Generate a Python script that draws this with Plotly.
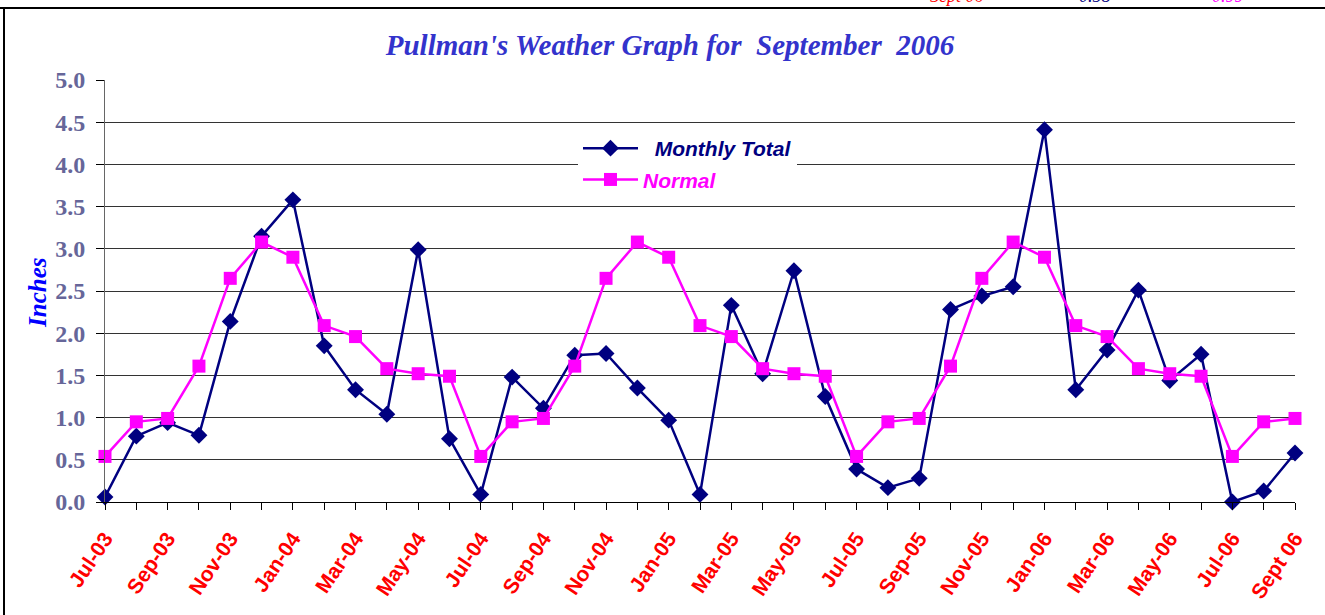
import plotly.graph_objects as go

months = ["Jul-03","Aug-03","Sep-03","Oct-03","Nov-03","Dec-03","Jan-04","Feb-04","Mar-04","Apr-04","May-04","Jun-04",
          "Jul-04","Aug-04","Sep-04","Oct-04","Nov-04","Dec-04","Jan-05","Feb-05","Mar-05","Apr-05","May-05","Jun-05",
          "Jul-05","Aug-05","Sep-05","Oct-05","Nov-05","Dec-05","Jan-06","Feb-06","Mar-06","Apr-06","May-06","Jun-06",
          "Jul-06","Aug-06","Sept 06"]
monthly_total = [0.06,0.78,0.94,0.79,2.14,3.15,3.58,1.85,1.33,1.04,2.99,0.75,
                 0.09,1.48,1.11,1.74,1.76,1.35,0.97,0.09,2.33,1.52,2.74,1.25,
                 0.39,0.17,0.28,2.28,2.44,2.55,4.41,1.33,1.80,2.51,1.44,1.75,
                 0.00,0.13,0.58]
normal = [0.54,0.95,0.99,1.61,2.65,3.08,2.90,2.09,1.96,1.58,1.52,1.49,
          0.54,0.95,0.99,1.61,2.65,3.08,2.90,2.09,1.96,1.58,1.52,1.49,
          0.54,0.95,0.99,1.61,2.65,3.08,2.90,2.09,1.96,1.58,1.52,1.49,
          0.54,0.95,0.99]
tick_labels = months[::2]
y_ticks = [0.0,0.5,1.0,1.5,2.0,2.5,3.0,3.5,4.0,4.5,5.0]

NAVY = "#000080"
MAG = "#FF00FF"

fig = go.Figure()
fig.add_trace(go.Scatter(
    x=months, y=monthly_total, mode="lines+markers",
    name="<span style='color:#000080'><b><i>  Monthly Total</i></b></span>",
    legendgroup="a",
    line=dict(color=NAVY, width=2.5),
    marker=dict(symbol="diamond", size=13, color=NAVY),
    cliponaxis=False))
fig.add_trace(go.Scatter(
    x=months, y=normal, mode="lines+markers",
    name="<span style='color:#FF00FF'><b><i>Normal</i></b></span>",
    legendgroup="b",
    line=dict(color=MAG, width=2.5),
    marker=dict(symbol="square", size=13, color=MAG),
    cliponaxis=False))

W, H = 1325, 615
L, R, T, B = 105, 30, 80, 113
pw, ph = W - L - R, H - T - B

def px(x):
    return (x - L) / pw

def py(y):
    return (H - B - y) / ph

fig.update_layout(
    width=W, height=H,
    margin=dict(l=L, r=R, t=T, b=B),
    paper_bgcolor="white", plot_bgcolor="white",
    showlegend=True,
    title=dict(text="<b><i>Pullman's Weather Graph for  September  2006</i></b>",
               x=670 / W, xanchor="center", y=1 - 45 / H, yanchor="middle",
               font=dict(family="Liberation Serif", size=29, color="#3333CC")),
    legend=dict(x=px(578), y=py(128), xanchor="left", yanchor="top",
                bgcolor="white", borderwidth=0, itemwidth=55,
                traceorder="grouped", tracegroupgap=1,
                font=dict(family="Liberation Sans", size=21)),
    xaxis=dict(
        type="category", categoryorder="array", categoryarray=months,
        range=[0, len(months) - 1],
        tickmode="array", tickvals=tick_labels,
        ticktext=[f"<b>{t}</b>" for t in tick_labels],
        tickangle=-56, ticklabelstandoff=8,
        tickfont=dict(family="Liberation Sans", size=21, color="#FF0000"),
        showgrid=False, showline=True, linecolor="black", linewidth=1,
        ticks="outside", ticklen=7, tickcolor="black", zeroline=False),
    yaxis=dict(
        range=[0, 5.0], tickmode="array", tickvals=y_ticks,
        ticktext=[f"<b>{v:.1f}</b>" for v in y_ticks],
        ticklabelstandoff=6,
        tickfont=dict(family="Liberation Serif", size=24, color="#666699"),
        showgrid=True, gridcolor="#333333", gridwidth=1,
        showline=True, linecolor="#666666", linewidth=1,
        ticks="outside", ticklen=8, tickcolor="black", zeroline=False),
)

fig.add_annotation(text="<b><i>Inches</i></b>", xref="paper", yref="paper",
                   x=px(37), y=py(293), xanchor="center", yanchor="middle",
                   textangle=-90, showarrow=False,
                   font=dict(family="Liberation Serif", size=25, color="#0000FF"))

fig.update_xaxes(minor=dict(ticks="outside", ticklen=7, tickcolor="black",
                            tickmode="array", tickvals=months))

fig.add_shape(type="line", xref="paper", yref="paper", x0=px(0), x1=px(W), y0=py(8), y1=py(8),
              line=dict(color="black", width=2))
fig.add_shape(type="line", xref="paper", yref="paper", x0=px(4), x1=px(4), y0=py(8), y1=py(H + 5),
              line=dict(color="black", width=2))

for txt, xc, col in [("Sept 06", 957, "#FF0000"), ("0.58", 1095, NAVY), ("0.99", 1228, MAG)]:
    fig.add_annotation(text=f"<i>{txt}</i>", xref="paper", yref="paper",
                       x=px(xc), y=py(8), xanchor="center", yanchor="bottom",
                       showarrow=False, font=dict(family="Liberation Serif", size=18, color=col))

fig.write_html("out.html", config={"displayModeBar": False},
               post_script="document.body.style.margin='0';document.body.style.overflow='hidden';")
